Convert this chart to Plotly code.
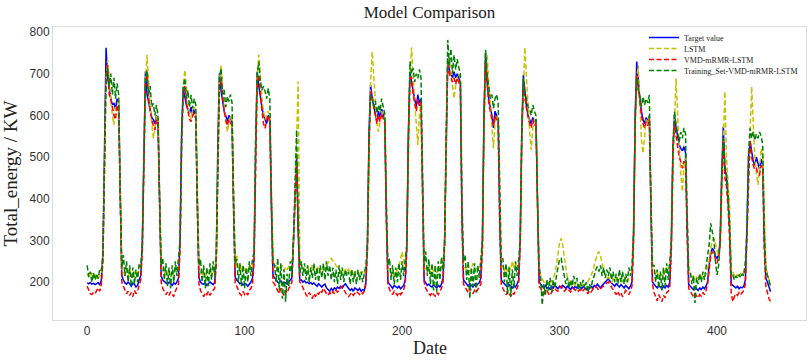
import plotly.graph_objects as go

# ---- data (hourly index 0..434) ----
target = [
 198, 196, 199, 195, 197, 194, 196, 199, 193, 205,
 270, 520, 762, 690, 660, 640, 625, 630, 615, 640, 630, 380, 215,
 205, 198, 195, 200, 196, 190, 197, 195, 188, 192, 205, 215,
 290, 540, 705, 650, 630, 610, 595, 590, 580, 600, 585, 390, 215,
 205, 200, 198, 195, 200, 196, 192, 198, 195, 200, 210,
 300, 560, 665, 640, 625, 615, 605, 620, 600, 615, 600, 380, 210,
 200, 196, 195, 198, 192, 195, 200, 197, 194, 199,
 260, 540, 701, 660, 630, 610, 600, 585, 600, 590, 585, 380, 212,
 205, 200, 196, 198, 193, 197, 195, 190, 196, 200, 210,
 260, 540, 705, 670, 640, 620, 600, 590, 580, 600, 590, 380, 215,
 210, 205, 200, 198, 203, 196, 200, 198, 195, 200, 205, 210,
 300, 420, 497, 330, 205,
 205, 200, 203, 198, 200, 196, 199, 195, 198, 194, 190, 196, 192, 188, 193, 195, 186, 182, 178, 185,
 180, 186, 183, 188, 185, 190, 186, 192, 196, 190, 186, 180, 184, 178, 186, 182, 180, 185, 178, 182, 180, 200,
 300, 560, 673, 640, 620, 600, 585, 610, 595, 615, 600, 590, 360, 200,
 195, 190, 185, 192, 188, 186, 190, 184, 188, 192, 205,
 290, 560, 705, 680, 660, 640, 620, 650, 630, 640, 380, 205,
 198, 192, 195, 190, 188, 194, 190, 186, 192, 188, 195, 210,
 300, 580, 737, 710, 700, 690, 705, 690, 700, 690, 680, 360, 205,
 200, 195, 190, 196, 192, 188, 194, 190, 195, 198, 210,
 300, 600, 749, 680, 640, 620, 600, 570, 610, 600, 590, 350, 205,
 200, 195, 192, 188, 194, 190, 186, 192, 188, 195, 205,
 300, 560, 697, 650, 620, 600, 590, 580, 595, 585, 590, 350, 200,
 195, 190, 186, 192, 185, 188, 182, 190, 186, 192, 188, 184, 190,
 186, 192, 188, 185, 190, 186, 182, 188, 184, 190, 186, 192, 188, 184, 190,
 186, 182, 188, 185, 190, 186, 192, 188, 195, 190, 186, 192, 196, 200, 204,
 208, 202, 198, 194, 190, 196, 192, 188, 194, 190, 186, 192, 188, 184, 190, 200,
 320, 600, 729, 680, 640, 610, 590, 580, 595, 585, 600, 380, 200,
 195, 190, 186, 192, 188, 184, 190, 186, 192, 188, 200,
 300, 520, 601, 570, 545, 530, 520, 515, 525, 510, 330, 195,
 190, 186, 182, 188, 184, 180, 186, 182, 188, 184, 190, 200,
 240, 270, 281, 275, 262, 257, 265, 300, 460, 573, 470, 455, 400, 330, 195,
 192, 188, 186, 190, 184, 188, 186, 190, 205,
 330, 500, 537, 510, 490, 480, 500, 485, 470, 495, 480, 300, 210, 200, 185, 177,
]

lstm = [
 215, 220, 212, 222, 210, 218, 208, 220, 212, 225,
 250, 480, 690, 733, 680, 640, 600, 577, 620, 610, 640, 420, 230,
 225, 215, 228, 212, 230, 220, 210, 225, 215, 222, 230, 235,
 270, 500, 680, 745, 670, 620, 580, 545, 570, 600, 590, 420, 235,
 228, 218, 230, 215, 225, 212, 228, 218, 230, 222, 235,
 280, 520, 660, 709, 660, 630, 600, 590, 610, 620, 605, 410, 230,
 222, 215, 228, 210, 225, 218, 230, 215, 222, 228,
 250, 500, 680, 721, 660, 620, 590, 561, 580, 600, 590, 420, 235,
 265, 230, 245, 225, 240, 228, 235, 225, 238, 230, 240,
 260, 500, 690, 745, 690, 640, 610, 590, 600, 610, 600, 430, 240,
 235, 241, 230, 238, 233, 240, 228, 236, 230, 240, 245, 250,
 280, 400, 520, 681, 260,
 240, 230, 235, 225, 238, 228, 232, 240, 226, 235, 230, 238, 225, 232, 228, 235, 240, 245, 250, 257,
 252, 245, 240, 235, 230, 225, 228, 222, 230, 225, 232, 220, 228, 218, 225, 230, 222, 215, 220, 225, 218, 235,
 270, 520, 680, 753, 690, 630, 580, 561, 590, 610, 600, 595, 400, 230,
 225, 218, 228, 215, 222, 230, 240, 255, 273, 250, 235,
 280, 540, 700, 763, 690, 630, 580, 529, 600, 630, 420, 230,
 235, 225, 240, 220, 232, 225, 238, 222, 230, 226, 238, 245,
 290, 560, 720, 737, 700, 680, 641, 670, 690, 700, 690, 400, 235,
 235, 228, 240, 225, 232, 245, 228, 236, 230, 240, 245,
 280, 560, 700, 745, 680, 620, 560, 521, 580, 600, 590, 400, 235,
 240, 225, 235, 222, 240, 228, 250, 235, 245, 230, 240,
 290, 540, 680, 763, 690, 620, 560, 517, 570, 590, 590, 400, 235,
 215, 205, 200, 196, 202, 198, 205, 200, 210, 220, 240, 270, 295,
 305, 290, 260, 230, 210, 200, 195, 200, 196, 192, 198, 194, 190, 196, 192,
 195, 198, 202, 208, 215, 225, 240, 255, 268, 273, 262, 245, 228, 215, 210,
 212, 205, 200, 208, 214, 205, 198, 210, 204, 200, 212, 206, 198, 210, 215, 225,
 300, 560, 690, 720, 620, 540, 509, 560, 590, 580, 600, 420, 230,
 228, 215, 225, 210, 222, 215, 230, 220, 235, 228, 240,
 290, 500, 620, 689, 600, 520, 460, 417, 480, 500, 380, 225,
 220, 210, 215, 205, 212, 208, 215, 210, 218, 212, 220, 235,
 250, 280, 300, 305, 290, 270, 262, 290, 420, 560, 657, 500, 440, 380, 230,
 225, 215, 210, 218, 212, 220, 215, 225, 240,
 300, 480, 560, 669, 580, 500, 460, 433, 470, 520, 500, 360, 240, 220, 205, 190,
]

vmd_mrmr_lstm = [
 190, 182, 172, 170, 175, 172, 180, 186, 178, 195,
 250, 500, 700, 720, 650, 640, 620, 600, 590, 625, 610, 360, 200,
 190, 180, 172, 178, 168, 175, 165, 180, 172, 178, 195, 205,
 270, 520, 680, 697, 640, 610, 590, 575, 565, 590, 575, 370, 200,
 185, 178, 170, 176, 168, 177, 172, 165, 178, 185, 195,
 280, 540, 650, 670, 630, 610, 590, 585, 600, 605, 590, 360, 195,
 180, 172, 165, 175, 170, 178, 168, 175, 180, 185,
 245, 510, 670, 689, 640, 610, 590, 575, 590, 580, 575, 360, 195,
 190, 180, 172, 168, 178, 170, 175, 169, 180, 185, 195,
 250, 520, 680, 697, 650, 610, 580, 569, 590, 600, 580, 370, 200,
 195, 188, 180, 172, 185, 176, 168, 180, 174, 185, 190, 200,
 290, 410, 489, 320, 200,
 195, 185, 178, 170, 165, 175, 168, 160, 172, 165, 175, 170, 180, 175, 185, 178, 172, 168, 175, 170,
 178, 172, 180, 176, 182, 186, 190, 180, 175, 168, 165, 170, 175, 168, 172, 178, 174, 170, 176, 172, 178, 195,
 280, 540, 657, 650, 620, 600, 580, 600, 585, 605, 590, 580, 350, 195,
 182, 175, 170, 178, 172, 168, 176, 170, 175, 182, 195,
 280, 540, 690, 690, 650, 630, 610, 640, 620, 630, 370, 200,
 185, 178, 172, 168, 176, 170, 166, 175, 170, 178, 185, 200,
 290, 560, 721, 700, 690, 680, 690, 675, 690, 680, 670, 350, 195,
 188, 180, 175, 185, 177, 172, 180, 175, 182, 188, 195,
 280, 580, 729, 670, 630, 610, 590, 575, 600, 590, 580, 340, 195,
 185, 176, 170, 178, 172, 166, 175, 170, 180, 185, 195,
 290, 540, 680, 640, 615, 595, 580, 570, 590, 575, 580, 340, 190,
 185, 176, 170, 178, 180, 172, 168, 176, 182, 185, 180, 178, 186,
 190, 184, 178, 182, 186, 180, 176, 182, 185, 180, 184, 178, 182, 176, 180,
 184, 178, 172, 180, 176, 182, 186, 190, 185, 180, 184, 188, 192, 195, 198,
 200, 194, 188, 182, 176, 170, 178, 168, 175, 165, 172, 180, 176, 170, 178, 190,
 300, 580, 697, 660, 620, 600, 580, 570, 585, 575, 590, 360, 195,
 175, 165, 155, 170, 160, 153, 168, 162, 175, 178, 190,
 280, 500, 585, 550, 520, 500, 489, 473, 490, 485, 320, 185,
 178, 170, 165, 172, 168, 162, 170, 166, 175, 170, 180, 195,
 230, 262, 273, 268, 255, 245, 258, 290, 440, 537, 450, 430, 380, 300, 175,
 153, 165, 172, 168, 175, 170, 176, 180, 195,
 310, 480, 541, 500, 480, 470, 473, 460, 457, 480, 470, 280, 190, 175, 160, 153,
]

training_set_vmd = [
 240, 212, 225, 200, 222, 205, 220, 208, 232, 228,
 260, 510, 700, 713, 670, 700, 650, 690, 640, 677, 650, 400, 235,
 265, 215, 250, 200, 240, 190, 235, 195, 230, 200, 245, 235,
 290, 530, 690, 709, 650, 670, 620, 629, 600, 625, 600, 410, 240,
 257, 205, 245, 190, 235, 185, 240, 200, 250, 215, 260,
 300, 550, 670, 689, 640, 660, 620, 649, 617, 640, 625, 400, 240,
 255, 200, 240, 185, 235, 190, 245, 205, 250, 215,
 270, 530, 690, 713, 650, 661, 620, 645, 633, 650, 630, 400, 245,
 255, 200, 245, 190, 240, 185, 235, 200, 250, 215, 257,
 270, 530, 700, 729, 681, 660, 670, 657, 640, 665, 640, 410, 250,
 240, 200, 257, 180, 245, 160, 230, 153, 220, 190, 250, 215,
 300, 430, 565, 350, 220,
 250, 215, 245, 205, 240, 200, 235, 210, 245, 205, 235, 200, 240, 210, 245, 205, 250, 215, 240, 205,
 235, 200, 230, 195, 240, 205, 235, 200, 230, 215, 225, 195, 230, 200, 225, 195, 230, 205, 225, 200, 220, 240,
 290, 530, 649, 640, 620, 635, 605, 625, 610, 640, 620, 605, 390, 240,
 257, 205, 240, 195, 235, 200, 245, 205, 250, 215, 255,
 290, 550, 729, 700, 713, 680, 700, 689, 710, 690, 410, 240,
 273, 215, 255, 195, 245, 180, 240, 177, 250, 205, 260, 230,
 300, 580, 781, 720, 760, 700, 745, 710, 735, 715, 700, 400, 250,
 265, 205, 250, 161, 235, 190, 245, 175, 240, 210, 255,
 300, 600, 757, 700, 673, 640, 650, 617, 640, 650, 630, 390, 245,
 257, 200, 245, 170, 235, 165, 230, 185, 250, 215, 255,
 300, 560, 689, 650, 640, 620, 615, 600, 625, 610, 600, 390, 240,
 210, 145, 195, 170, 205, 180, 210, 175, 205, 185, 215, 235, 255,
 257, 240, 215, 195, 210, 185, 205, 190, 215, 195, 210, 180, 200, 190, 205,
 185, 200, 175, 195, 185, 205, 215, 230, 237, 225, 240, 215, 235, 210, 230,
 215, 235, 205, 225, 200, 220, 195, 230, 200, 225, 195, 220, 200, 235, 215, 240,
 320, 590, 689, 660, 649, 621, 645, 625, 640, 630, 649, 400, 240,
 240, 200, 230, 185, 225, 180, 235, 190, 245, 205, 250,
 300, 530, 609, 577, 560, 537, 560, 545, 570, 555, 370, 230,
 225, 195, 215, 150, 210, 195, 220, 200, 225, 205, 235, 260,
 290, 341, 320, 300, 250, 217, 240, 300, 470, 545, 480, 460, 410, 340, 215,
 217, 205, 215, 209, 218, 210, 220, 215, 250,
 330, 510, 569, 545, 561, 540, 555, 545, 560, 550, 530, 330, 230, 215, 200, 190,
]

series_names = ["Target value", "LSTM", "VMD-mRMR-LSTM", "Training_Set-VMD-mRMR-LSTM"]
x_ticks = [0, 100, 200, 300, 400]
y_ticks = [200, 300, 400, 500, 600, 700, 800]

for s in (target, lstm, vmd_mrmr_lstm, training_set_vmd):
    assert len(s) == 435, len(s)

styles = [
    dict(color="#0000ff", dash="solid"),
    dict(color="#c8c000", dash="5px,2.5px"),
    dict(color="#ff0000", dash="5px,2.5px"),
    dict(color="#008000", dash="5px,2.5px"),
]

fig = go.Figure()
legend_ids = ["legend", "legend2", "legend3", "legend4"]
for i, (name, ys) in enumerate(zip(series_names, [target, lstm, vmd_mrmr_lstm, training_set_vmd])):
    fig.add_trace(go.Scatter(
        x=list(range(len(ys))), y=ys, mode="lines", name=name,
        line=dict(color=styles[i]["color"], width=1.5, dash=styles[i]["dash"]),
        legend=legend_ids[i],
    ))

W, H = 809, 361
ml, mr, mt, mb = 53, 3, 27, 41
pw = W - ml - mr
ph = H - mt - mb
row_px = [37.5, 48.5, 59.5, 70.5]
leg_common = dict(x=(644 - ml) / pw, xanchor="left", yanchor="middle",
                  bgcolor="rgba(0,0,0,0)", borderwidth=0,
                  font=dict(family="Liberation Serif", size=8, color="#222"),
                  itemwidth=30, tracegroupgap=0)
layout_legends = {}
for lid, py in zip(legend_ids, row_px):
    layout_legends[lid] = dict(leg_common, y=(H - mb - py) / ph)

fig.update_layout(
    width=W, height=H,
    margin=dict(l=ml, r=mr, t=mt, b=mb),
    paper_bgcolor="white", plot_bgcolor="white",
    title=dict(text="Model Comparison", x=(ml + pw / 2) / W, xanchor="center",
               y=1 - 12 / H, yanchor="middle",
               font=dict(family="Liberation Serif", size=17, color="#222")),
    showlegend=True,
    **layout_legends,
)
# x-axis title placed as an annotation so it stays inside the 361px canvas
fig.add_annotation(
    text="Date", xref="paper", yref="paper", x=0.5, y=-(348 - (H - mb)) / ph,
    xanchor="center", yanchor="middle", showarrow=False, borderpad=0,
    font=dict(family="Liberation Serif", size=18, color="#222"),
)
fig.update_xaxes(
    range=[-21.7, 456.5], tickvals=x_ticks, ticks="", showgrid=False, zeroline=False,
    showline=True, mirror=True, linecolor="#dcdcdc", linewidth=1,
    tickfont=dict(family="Liberation Sans", size=12, color="#333"),
)
fig.update_yaxes(
    range=[109, 812], tickvals=y_ticks, ticks="", showgrid=False, zeroline=False,
    showline=True, mirror=True, linecolor="#dcdcdc", linewidth=1,
    tickfont=dict(family="Liberation Sans", size=12, color="#333"),
    title=dict(text="Total_energy / KW", font=dict(family="Liberation Serif", size=19, color="#222"), standoff=6),
)

# remove the browser's default 8px body margin so the figure fills the window exactly
fig.write_html("out.html", config={"displayModeBar": False},
               post_script="document.body.style.margin='0';document.body.style.padding='0';")
